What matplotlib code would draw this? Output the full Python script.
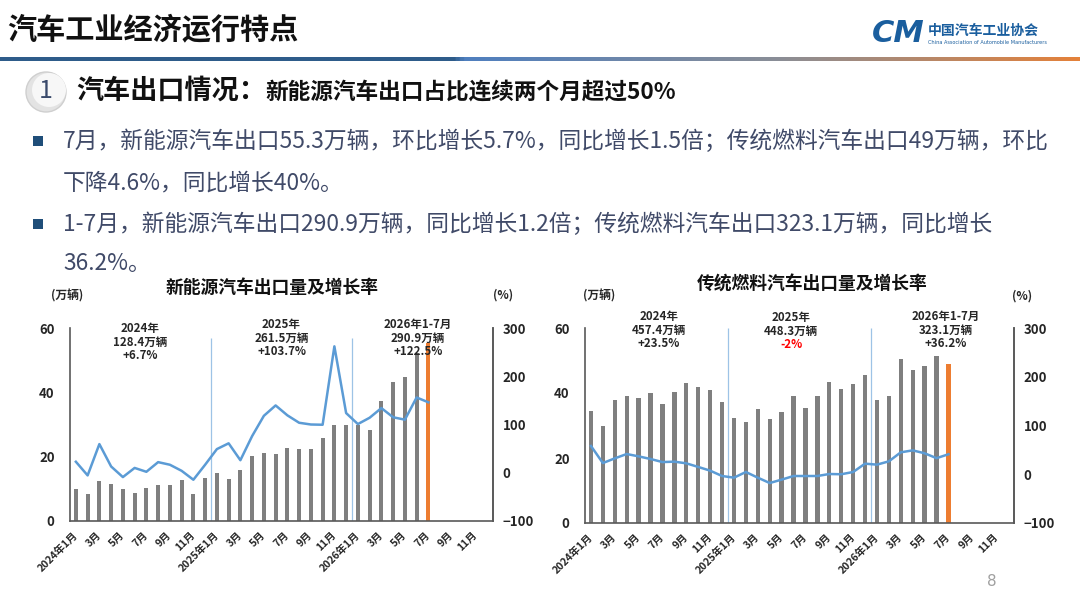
import matplotlib
matplotlib.use('Agg')
import matplotlib.pyplot as plt
import numpy as np
from matplotlib.patches import Circle, Rectangle
from matplotlib.colors import LinearSegmentedColormap
import matplotlib.transforms as mtransforms

plt.rcParams['font.family'] = ['Noto Sans CJK SC', 'DejaVu Sans']

# ---------------- data ----------------
month_ticks = ["2024年1月", "3月", "5月", "7月", "9月", "11月",
               "2025年1月", "3月", "5月", "7月", "9月", "11月",
               "2026年1月", "3月", "5月", "7月", "9月", "11月"]

# 2024-01 .. 2026-07, 万辆
nev_volume = [10.0, 8.3, 12.5, 11.4, 10.0, 8.6, 10.3, 11.1, 11.1, 12.7, 8.3, 13.4,
              15.0, 13.1, 15.9, 20.1, 21.2, 20.7, 22.6, 22.3, 22.3, 25.7, 29.9, 29.9,
              30.0, 28.3, 37.3, 43.2, 44.9, 52.3, 55.3]
# 同比增长率 %
nev_growth = [22.8, -5.5, 59.4, 13.0, -9.0, 10.0, 2.0, 22.0, 16.6, 4.0, -14.5, 16.6,
              49.0, 61.0, 26.0, 76.0, 118.0, 139.5, 119.0, 103.6, 100.0, 99.5, 262.0, 123.7,
              100.9, 114.0, 134.0, 115.0, 110.0, 156.0, 146.0]

ice_volume = [34.5, 29.7, 37.7, 39.2, 38.6, 40.0, 36.7, 40.3, 43.1, 41.7, 40.8, 37.2,
              32.2, 31.1, 35.0, 32.0, 34.2, 39.0, 35.3, 39.0, 43.4, 41.1, 42.8, 45.6,
              38.0, 39.0, 50.6, 47.2, 48.4, 51.4, 49.0]
ice_growth = [58.0, 23.0, 32.6, 41.5, 36.7, 31.3, 25.0, 25.8, 22.4, 15.0, 7.4, -3.6,
              -7.0, 4.6, -7.0, -18.0, -11.0, -3.6, -3.6, -3.6, 0.5, 0.0, 4.6, 21.7,
              19.7, 26.5, 45.0, 49.0, 43.0, 33.0, 41.0]

nev_summary = [("2024年", "128.4万辆", "+6.7%"),
               ("2025年", "261.5万辆", "+103.7%"),
               ("2026年1-7月", "290.9万辆", "+122.5%")]
ice_summary = [("2024年", "457.4万辆", "+23.5%"),
               ("2025年", "448.3万辆", "-2%"),
               ("2026年1-7月", "323.1万辆", "+36.2%")]

nev_title = "新能源汽车出口量及增长率"
ice_title = "传统燃料汽车出口量及增长率"

bullet_lines = [
    "7月，新能源汽车出口55.3万辆，环比增长5.7%，同比增长1.5倍；传统燃料汽车出口49万辆，环比",
    "下降4.6%，同比增长40%。",
    "1-7月，新能源汽车出口290.9万辆，同比增长1.2倍；传统燃料汽车出口323.1万辆，同比增长",
    "36.2%。",
]

# ---------------- styles ----------------
W, H = 1080, 608
GRAY = '#7F7F7F'
ORANGE = '#ED7D31'
LINE = '#5B9BD5'
VLINE = '#9DC3E6'
SPINE = '#595959'
TXT = '#262626'
NAVY = '#1F4E79'
BODY = '#404A68'

fig = plt.figure(figsize=(W / 100, H / 100), dpi=100)
fig.patch.set_facecolor('white')

bg = fig.add_axes([0, 0, 1, 1], zorder=0)
bg.set_xlim(0, W)
bg.set_ylim(H, 0)
bg.axis('off')

# header title
bg.text(7, 29, "汽车工业经济运行特点", fontsize=21, fontweight='bold', color='#111111',
        va='center', ha='left')

# logo
bg.text(872, 34, "CM", fontsize=22, fontweight='bold', style='italic', color='#1A5E9E',
        va='center', ha='left', family=['DejaVu Sans'])
bg.text(928, 31, "中国汽车工业协会", fontsize=10, fontweight='bold', color='#1A5E9E',
        va='center', ha='left')
bg.text(928, 43, "China Association of Automobile Manufacturers", fontsize=3.6,
        color='#1A5E9E', va='center', ha='left', family=['DejaVu Sans'])

# header gradient rule
cmap = LinearSegmentedColormap.from_list(
    'rule', [(0.0, '#2E5C8A'), (0.42, '#2E5C8A'), (0.43, '#4F7FBF'),
             (0.72, '#8A8E97'), (1.0, '#E4813A')])
grad = np.linspace(0, 1, 512).reshape(1, -1)
bg.imshow(grad, cmap=cmap, aspect='auto', extent=[0, W, 61, 57], zorder=1)

# section heading
bg.add_patch(Circle((46, 92), 20, facecolor='#E3E3E3', edgecolor='#CFCFCF', lw=1, zorder=2))
bg.add_patch(Circle((49, 90), 17, facecolor='#F7F7F7', edgecolor='none', zorder=2))
bg.text(46, 91, "1", fontsize=18, color='#3A4A6B', ha='center', va='center', zorder=3)
bg.text(76, 91, "汽车出口情况：", fontsize=19.5, fontweight='bold', color='#111111',
        ha='left', va='center')
bg.text(265, 92, "新能源汽车出口占比连续两个月超过50%", fontsize=16.3, fontweight='bold',
        color='#111111', ha='left', va='center')

# bullets
line_y = [141, 183, 224, 263]
for i, (txt, y) in enumerate(zip(bullet_lines, line_y)):
    if i in (0, 2):
        bg.add_patch(Rectangle((33, y - 5), 10, 10, facecolor=NAVY, edgecolor='none'))
    bg.text(63, y, txt, fontsize=16.4, color=BODY, ha='left', va='center')

# page number
bg.text(992, 582, "8", fontsize=11, color='#A0A0A0', ha='center', va='center',
        family=['DejaVu Sans'])


def px_rect(x0, x1, ytop, ybot):
    return [x0 / W, 1 - ybot / H, (x1 - x0) / W, (ybot - ytop) / H]


def draw_chart(rect, volume, growth, title, title_xy, unit_xy, pct_xy,
               summaries, sum_x, sum_yfrac, vline_top, red_idx=None):
    ax = fig.add_axes(rect, zorder=2)
    ax.patch.set_alpha(0)
    x = np.arange(len(volume))
    colors = [GRAY] * (len(volume) - 1) + [ORANGE]
    ax.bar(x, volume, width=0.36, color=colors, zorder=2)
    ax.set_xlim(-0.5, 35.5)
    ax.set_ylim(0, 60)
    ax.set_yticks([0, 20, 40, 60])
    ax.set_xticks(np.arange(0, 36, 2))
    ax.set_xticklabels(month_ticks, rotation=45, ha='right', va='center',
                       rotation_mode='anchor', fontsize=7.5, fontweight='bold', color=TXT)
    offset = mtransforms.ScaledTranslation(4 / 100, 0, fig.dpi_scale_trans)
    for lab in ax.get_xticklabels():
        lab.set_transform(lab.get_transform() + offset)
    ax.tick_params(axis='x', length=0, pad=9)
    ax.tick_params(axis='y', length=0, pad=11, labelsize=9.5, labelcolor=TXT)
    for lab in ax.get_yticklabels():
        lab.set_fontweight('bold')
    ax.spines['top'].set_visible(False)
    for s in ['left', 'bottom', 'right']:
        ax.spines[s].set_color(SPINE)
        ax.spines[s].set_linewidth(1.2)
    ax.vlines([11.5, 23.5], 0, vline_top, color=VLINE, lw=0.9, zorder=1)

    ax2 = ax.twinx()
    ax2.plot(x, growth, color=LINE, lw=1.8, zorder=3)
    ax2.set_ylim(-100, 300)
    ax2.set_yticks([-100, 0, 100, 200, 300])
    ax2.tick_params(axis='y', length=0, pad=7, labelsize=9.5, labelcolor=TXT)
    for lab in ax2.get_yticklabels():
        lab.set_fontweight('bold')
    ax2.spines['top'].set_visible(False)
    ax2.spines['right'].set_color(SPINE)
    ax2.spines['right'].set_linewidth(1.2)
    ax2.spines['left'].set_visible(False)
    ax2.spines['bottom'].set_visible(False)

    trans = mtransforms.blended_transform_factory(ax.transData, ax.transAxes)
    step = 13.5 / rect[3] / H
    for k, (lines, sx, sy) in enumerate(zip(summaries, sum_x, sum_yfrac)):
        for j, t in enumerate(lines):
            c = 'red' if (red_idx == k and j == 2) else TXT
            ax.text(sx, sy + (1 - j) * step, t, transform=trans, ha='center', va='center',
                    fontsize=8.3, fontweight='bold', color=c, zorder=5)

    bg.text(title_xy[0], title_xy[1], title, fontsize=12.8, fontweight='bold', color='#111111',
            ha='center', va='center')
    bg.text(unit_xy[0], unit_xy[1], "(万辆)", fontsize=8.5, fontweight='bold', color=TXT,
            ha='center', va='center')
    bg.text(pct_xy[0], pct_xy[1], "(%)", fontsize=8.5, fontweight='bold', color=TXT,
            ha='center', va='center')
    return ax, ax2


draw_chart(px_rect(70, 493, 328, 521), nev_volume, nev_growth, nev_title,
           (272, 288), (67, 296), (503, 295),
           nev_summary, [5.5, 17.5, 29.1], [0.927, 0.948, 0.948], 56.8)

draw_chart(px_rect(585, 1014, 328, 523), ice_volume, ice_growth, ice_title,
           (812, 285), (599, 296), (1022, 296),
           ice_summary, [5.7, 16.8, 29.8], [0.99, 0.985, 0.99], 60, red_idx=1)

fig.savefig('out.png', dpi=100, facecolor='white')
